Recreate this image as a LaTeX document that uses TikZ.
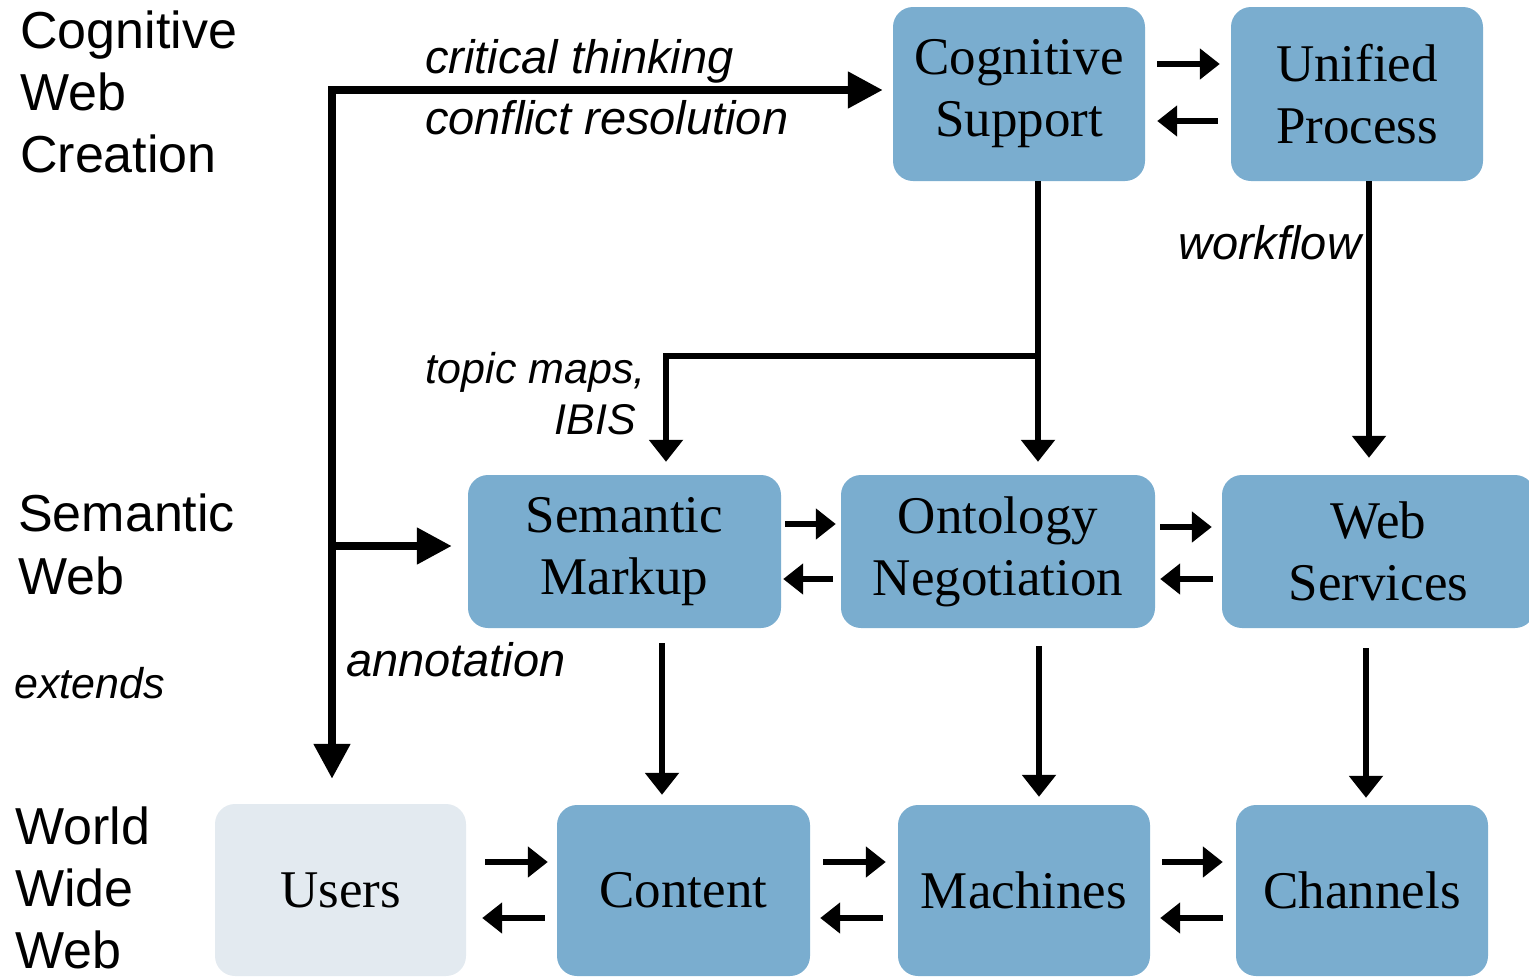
\documentclass[tikz,border=0pt]{standalone}
\usepackage{fontspec}
\setmainfont{Liberation Serif}
\setsansfont{Liberation Sans}
\usetikzlibrary{arrows.meta,calc}
\definecolor{boxblue}{HTML}{7AADCF}
\definecolor{boxpale}{HTML}{E3EAF0}
\tikzset{
  box/.style={rounded corners=20pt, fill=boxblue, draw=none, align=center,
    inner sep=0pt, font=\fontsize{53}{62}\selectfont},
  layer/.style={anchor=base west, inner sep=0pt, font=\sffamily\fontsize{52}{62}\selectfont},
  lbl/.style={inner sep=0pt, font=\sffamily\itshape\fontsize{47}{61}\selectfont},
  lblsmall/.style={inner sep=0pt, font=\sffamily\itshape\fontsize{43}{50}\selectfont},
  bigarrow/.style={line width=8pt, -{Triangle[length=35pt,width=35pt]}},
  flowarrow/.style={line width=6.5pt, -{Triangle[length=22pt,width=33pt]}},
  pairarrow/.style={line width=6pt, -{Triangle[length=20pt,width=30pt]}},
}
\begin{document}
\begin{tikzpicture}[x=1pt,y=-1pt]
\useasboundingbox (0,0) rectangle (1529,978);

% boxes of the three layers
\node[box, minimum width=252pt, minimum height=174pt] (cs) at (1019,94) {Cognitive\\Support};
\node[box, minimum width=252pt, minimum height=174pt] (up) at (1357,94) {Unified\\Process};
\node[box, minimum width=313pt, minimum height=153pt] (sm) at (624.5,551.5) {Semantic\\Markup};
\node[box, minimum width=314pt, minimum height=153pt] (on) at (998,551.5) {Ontology\\Negotiation};
\node[box, minimum width=313pt, minimum height=153pt] (ws) at (1378.5,551.5) {Web\\Services};
\node[box, fill=boxpale, minimum width=251pt, minimum height=172pt] (us) at (340.5,890) {Users};
\node[box, minimum width=253pt, minimum height=171pt] (co) at (683.5,890.5) {Content};
\node[box, minimum width=252pt, minimum height=171pt] (ma) at (1024,890.5) {Machines};
\node[box, minimum width=252pt, minimum height=171pt] (ch) at (1362,890.5) {Channels};

% layer names on the left
\node[layer] (l1) at (20,48) {Cognitive};
\node[layer] (l2) at (20,110) {Web};
\node[layer] (l3) at (20,172) {Creation};
\node[layer] (l4) at (18,531) {Semantic};
\node[layer] (l5) at (18,594) {Web};
\node[lblsmall, anchor=base west] (ext) at (14,698) {extends};
\node[layer] (l6) at (15,844) {World};
\node[layer] (l7) at (15,906) {Wide};
\node[layer] (l8) at (15,968) {Web};

% connector labels
\node[lbl, anchor=base west] (t1) at (425,73) {critical thinking};
\node[lbl, anchor=base west] (t2) at (425,134) {conflict resolution};
\node[lbl, anchor=base west] (t3) at (1178,259) {workflow};
\node[lbl, anchor=base west] (t4) at (346,676) {annotation};
\node[lblsmall, anchor=base east] (t5) at (646,383) {topic maps,};
\node[lblsmall, anchor=base east] (t6) at (636,434) {IBIS};

% main trunk on the left
\coordinate (corner) at (332,90);
\coordinate (fork) at (332,546);
\draw[line width=8pt, -{Triangle[length=35pt,width=35pt]}, shorten >=10pt]
  (corner |- 0,480) -- (corner) -- (corner -| cs.west);
\draw[bigarrow, shorten >=25pt] (corner) -- (corner |- us.north);
\draw[bigarrow, shorten >=16pt] (fork) -- (fork -| sm.west);

% downward flows
\coordinate (csdown) at ($(cs.south)+(19,0)$);
\coordinate (split) at (1038,356);
\draw[flowarrow, shorten >=13pt] (csdown) -- (csdown |- on.north);
\draw[line width=5.5pt, -{Triangle[length=22pt,width=33pt]}, shorten >=13pt]
  (split) -- (666,356) -- (666,0 |- sm.north);
\coordinate (updown) at ($(up.south)+(12,0)$);
\draw[flowarrow, shorten >=17pt] (updown) -- (updown |- ws.north);
\draw[flowarrow, shorten <=15pt, shorten >=10pt] (662,0 |- sm.south) -- (662,0 |- co.north);
\draw[flowarrow, shorten <=18pt, shorten >=8pt] (1039,0 |- on.south) -- (1039,0 |- ma.north);
\draw[flowarrow, shorten <=20pt, shorten >=7pt] (1366,0 |- ws.south) -- (1366,0 |- ch.north);

% paired arrows between neighbours
\draw[pairarrow, shorten <=12pt, shorten >=11pt] (cs.east |- 0,64) -- (up.west |- 0,64);
\draw[pairarrow, shorten <=13pt, shorten >=12pt] (up.west |- 0,121) -- (cs.east |- 0,121);
\draw[pairarrow, shorten <=4pt, shorten >=5pt] (sm.east |- 0,524) -- (on.west |- 0,524);
\draw[pairarrow, shorten <=8pt, shorten >=2pt] (on.west |- 0,579) -- (sm.east |- 0,579);
\draw[pairarrow, shorten <=5pt, shorten >=10pt] (on.east |- 0,527) -- (ws.west |- 0,527);
\draw[pairarrow, shorten <=9pt, shorten >=5pt] (ws.west |- 0,579) -- (on.east |- 0,579);
\draw[pairarrow, shorten <=19pt, shorten >=9pt] (us.east |- 0,862) -- (co.west |- 0,862);
\draw[pairarrow, shorten <=12pt, shorten >=16pt] (co.west |- 0,918) -- (us.east |- 0,918);
\draw[pairarrow, shorten <=13pt, shorten >=12pt] (co.east |- 0,862) -- (ma.west |- 0,862);
\draw[pairarrow, shorten <=15pt, shorten >=10pt] (ma.west |- 0,918) -- (co.east |- 0,918);
\draw[pairarrow, shorten <=12pt, shorten >=13pt] (ma.east |- 0,862) -- (ch.west |- 0,862);
\draw[pairarrow, shorten <=13pt, shorten >=10pt] (ch.west |- 0,918) -- (ma.east |- 0,918);
\end{tikzpicture}
\end{document}
